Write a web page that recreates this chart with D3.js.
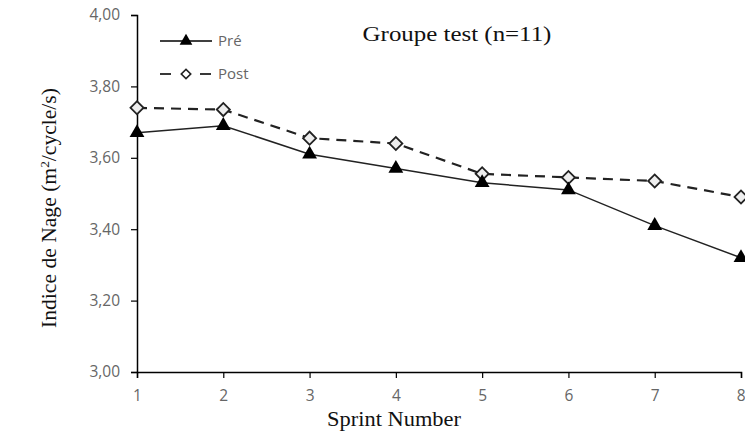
<!DOCTYPE html>
<html><head><meta charset="utf-8">
<script src="https://cdn.jsdelivr.net/npm/d3@7"></script>
<style>body{margin:0;background:#fff}svg{display:block}</style>
</head><body>
<script>
const sprints = [1,2,3,4,5,6,7,8];
const pre  = [3.67,3.69,3.61,3.57,3.53,3.51,3.41,3.32];
const post = [3.74,3.735,3.655,3.64,3.555,3.545,3.535,3.49];
const yTicks = [3.0,3.2,3.4,3.6,3.8,4.0];
const seriesNames = ["Pré","Post"];
const title = "Groupe test (n=11)";

const W=745,H=438;
const svg=d3.select("body").append("svg").attr("width",W).attr("height",H);
const x=d3.scaleLinear().domain([1,8]).range([137,741]);
const y=d3.scaleLinear().domain([3,4]).range([372,15]);
const fmt=d=>d3.format(".2f")(d).replace(".",",");

const yAx=svg.append("g").attr("transform","translate(137,0)")
  .call(d3.axisLeft(y).tickValues(yTicks).tickFormat(fmt).tickSize(6).tickPadding(11));
const xAx=svg.append("g").attr("transform","translate(0,372)")
  .call(d3.axisBottom(x).tickValues(sprints).tickFormat(d3.format("d")).tickSize(6).tickPadding(12));
[yAx,xAx].forEach(g=>{
  g.attr("font-size",null).attr("font-family",null);
  g.select(".domain").attr("stroke","#000").attr("stroke-width",1.5);
  g.selectAll(".tick line").attr("stroke","#000").attr("stroke-width",1.2);
  g.selectAll(".tick text").attr("fill","#666").attr("font-family","'Open Sans',sans-serif").attr("font-size",15.5);
});
xAx.selectAll(".tick text").filter(d=>d===8).attr("text-anchor","end").attr("dx",4);

const line=d3.line().x((d,i)=>x(sprints[i])).y(d=>y(d));
svg.append("path").datum(post).attr("d",line).attr("fill","none").attr("stroke","#222")
  .attr("stroke-width",2.2).attr("stroke-dasharray","10,7");
svg.append("path").datum(pre).attr("d",line).attr("fill","none").attr("stroke","#222")
  .attr("stroke-width",1.5);

const tri=d3.symbol().type(d3.symbolTriangle).size(95);
const dia=d3.symbol().type(d3.symbolSquare).size(85);
svg.selectAll(".dia").data(post).enter().append("path")
  .attr("d",dia).attr("transform",(d,i)=>`translate(${x(sprints[i])},${y(d)}) rotate(45)`)
  .attr("fill","#eeeeee").attr("stroke","#222").attr("stroke-width",1.8);
svg.selectAll(".tri").data(pre).enter().append("path")
  .attr("d",tri).attr("transform",(d,i)=>`translate(${x(sprints[i])},${y(d)})`)
  .attr("fill","#000");

// legend
const lg=svg.append("g");
lg.append("line").attr("x1",160).attr("x2",212).attr("y1",41).attr("y2",41).attr("stroke","#000").attr("stroke-width",1.5);
lg.append("path").attr("d",d3.symbol().type(d3.symbolTriangle).size(70)).attr("transform","translate(186,41)").attr("fill","#000");
[[160,171],[200,211]].forEach(s=>lg.append("line").attr("x1",s[0]).attr("x2",s[1]).attr("y1",74).attr("y2",74).attr("stroke","#222").attr("stroke-width",1.8));
lg.append("path").attr("d",d3.symbol().type(d3.symbolSquare).size(45)).attr("transform","translate(186,74) rotate(45)")
  .attr("fill","#fff").attr("stroke","#222").attr("stroke-width",1.6);
seriesNames.forEach((n,i)=>{
  lg.append("text").attr("x",218).attr("y",[46,79][i]).text(n)
    .attr("fill","#666").style("font-family","'Open Sans',sans-serif").style("font-size","15px");
});

function fit(sel,w,cx,cy,rot){
  const n=sel.node(); const L=n.getComputedTextLength();
  const s=w/L;
  sel.attr("transform",`translate(${cx},${cy}) rotate(${rot}) scale(${s},1)`);
}
const serif=sel=>sel.style("font-family","'Liberation Serif',serif").attr("fill","#111").attr("text-anchor","middle");

const t=svg.append("text").text(title).style("font-size","20px").call(serif);
fit(t,189,457,41,0);
const xt=svg.append("text").text("Sprint Number").style("font-size","21px").call(serif);
fit(xt,134,394,426,0);
const yt=svg.append("text").style("font-size","21px").call(serif);
yt.append("tspan").text("Indice de Nage (m");
yt.append("tspan").text("2").attr("dy",-7).style("font-size","13px");
yt.append("tspan").text("/cycle/s)").attr("dy",7);
fit(yt,240,56,208,-90);
</script>
</body></html>
